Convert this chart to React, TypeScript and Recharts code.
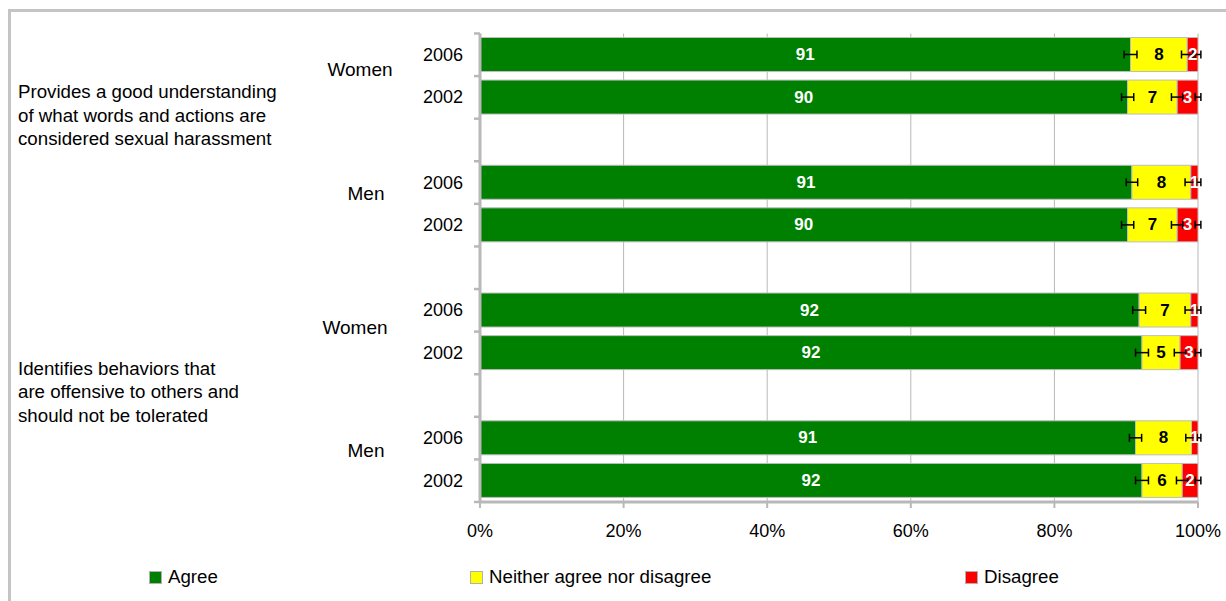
import React from 'react';
import { BarChart, Bar, XAxis, YAxis, CartesianGrid, ErrorBar, LabelList } from 'recharts';

// ---------- data ----------
const years = ['2006', '2002', '', '2006', '2002', '', '2006', '2002', '', '2006', '2002'];
const genders = ['Women', '', '', 'Men', '', '', 'Women', '', '', 'Men', ''];
const question1 = ['Provides a good understanding', 'of what words and actions are', 'considered sexual harassment'];
const question2 = ['Identifies behaviors that', 'are offensive to others and', 'should not be tolerated'];
const questionRows: (string[] | null)[] = [question1, null, null, null, null, null, question2, null, null, null, null];

const agree = [90.6, 90.2, null, 90.8, 90.2, null, 91.8, 92.2, null, 91.3, 92.2];
const neither = [7.9, 6.9, null, 8.2, 6.9, null, 7.2, 5.3, null, 7.8, 5.6];
const disagree = [1.5, 2.9, null, 1.0, 2.9, null, 1.0, 2.5, null, 0.9, 2.2];
const agreeErr = [0.9, 0.85, null, 0.8, 0.85, null, 0.9, 0.9, null, 0.85, 0.9];
const neitherErr = [0.8, 0.8, null, 0.8, 0.8, null, 0.8, 0.8, null, 0.8, 0.8];
const disagreeErr = [0.4, 0.4, null, 0.4, 0.4, null, 0.4, 0.4, null, 0.4, 0.4];

const xTicks = [0, 20, 40, 60, 80, 100];

const series = [
  { key: 'agree', name: 'Agree', color: '#008000', label: '#ffffff', err: 'agreeErr' },
  { key: 'neither', name: 'Neither agree nor disagree', color: '#ffff00', label: '#000000', err: 'neitherErr' },
  { key: 'disagree', name: 'Disagree', color: '#ff0000', label: '#ffffff', err: 'disagreeErr' },
];

const rows = years.map((year, i) => ({
  year,
  agree: agree[i],
  neither: neither[i],
  disagree: disagree[i],
  agreeErr: agreeErr[i],
  neitherErr: neitherErr[i],
  disagreeErr: disagreeErr[i],
}));

// ---------- layout ----------
const FONT = '"Liberation Sans", Arial, Helvetica, sans-serif';
const W = 1226;
const H = 601;
const GRAY = '#b8b8b8';
const GENDER_POS: Record<number, { x: number; dy: number }> = {
  0: { x: 360, dy: 15 },
  3: { x: 366, dy: 11 },
  6: { x: 355, dy: 17 },
  9: { x: 366, dy: 12 },
};
const QUESTION_DY: Record<number, number> = { 0: 37, 6: 58 };
const QUESTION_X = 18;
const LINE_H = 23.5;
const LEGEND_X = [149, 470, 965];

const YTick = (props: any) => {
  const { x, y, payload } = props;
  const i: number = props.index ?? payload.index;
  const half = payload && typeof payload.offset === 'number' && payload.offset > 0 ? payload.offset : 21.3;
  const tickX1 = x + 11;
  const tickX2 = x + 17;
  const g = GENDER_POS[i];
  const q = questionRows[i];
  return (
    <g>
      <line x1={tickX1} x2={tickX2} y1={y - half} y2={y - half} stroke={GRAY} strokeWidth={2.5} />
      {i === years.length - 1 && (
        <line x1={tickX1} x2={tickX2} y1={y + half} y2={y + half} stroke={GRAY} strokeWidth={2.5} />
      )}
      <text x={x} y={y} textAnchor="end" dominantBaseline="central" fontSize={18} fontFamily={FONT} fill="#000">
        {years[i]}
      </text>
      {g && genders[i] && (
        <text x={g.x} y={y + g.dy} textAnchor="middle" dominantBaseline="central" fontSize={19} fontFamily={FONT} fill="#000">
          {genders[i]}
        </text>
      )}
      {q &&
        q.map((line, k) => (
          <text
            key={k}
            x={QUESTION_X}
            y={y + QUESTION_DY[i] + k * LINE_H}
            textAnchor="start"
            dominantBaseline="central"
            fontSize={18.7}
            fontFamily={FONT}
            fill="#000"
          >
            {line}
          </text>
        ))}
    </g>
  );
};

const makeLabel = (color: string) => (p: any) => {
  const vb = p.viewBox ?? p;
  const { x, y, width, height } = vb;
  const value = p.value;
  if (value == null || x == null || width == null) return null;
  return (
    <text
      x={x + width / 2}
      y={y + height / 2}
      textAnchor="middle"
      dominantBaseline="central"
      fill={color}
      fontWeight="bold"
      fontSize={17}
      fontFamily={FONT}
    >
      {Math.round(Number(value))}
    </text>
  );
};

export default function App() {
  return (
    <div
      style={{
        position: 'absolute',
        left: 0,
        top: 0,
        width: W,
        height: H,
        overflow: 'hidden',
        background: '#fff',
        fontFamily: FONT,
      }}
    >
      <div
        style={{
          position: 'absolute',
          left: 8,
          top: 9,
          width: 1400,
          height: 800,
          border: '3px solid #c4c4c4',
          boxSizing: 'border-box',
        }}
      />
      <div style={{ position: 'absolute', left: 0, top: 0 }}>
        <BarChart
          width={W}
          height={H}
          data={rows}
          layout="vertical"
          barCategoryGap="10%"
          margin={{ top: 33.5, right: 28, bottom: 59, left: 0 }}
        >
          <CartesianGrid horizontal={false} vertical={true} stroke={GRAY} strokeWidth={1} />
          <XAxis
            type="number"
            domain={[0, 100]}
            allowDataOverflow
            ticks={xTicks}
            interval={0}
            tickFormatter={(v: number) => `${v}%`}
            height={40}
            axisLine={{ stroke: GRAY, strokeWidth: 3 }}
            tickLine={{ stroke: GRAY, strokeWidth: 2 }}
            tickSize={6}
            tickMargin={16}
            tick={{ fill: '#000', fontSize: 18, fontFamily: FONT }}
          />
          <YAxis
            type="category"
            dataKey="year"
            width={480}
            interval={0}
            axisLine={{ stroke: GRAY, strokeWidth: 3 }}
            tickLine={false}
            tickSize={6}
            tickMargin={11}
            tick={<YTick />}
          />
          {series.map((s) => (
            <Bar
              key={s.key}
              dataKey={s.key}
              name={s.name}
              stackId="s"
              fill={s.color}
              stroke="#bdbdbd"
              strokeWidth={1}
              barSize={34}
              isAnimationActive={false}
            >
              <ErrorBar dataKey={s.err} direction="x" width={4} stroke="#000" strokeWidth={1.5} />
              <LabelList dataKey={s.key} content={makeLabel(s.label)} />
            </Bar>
          ))}
        </BarChart>
      </div>
      {series.map((s, i) => (
        <div
          key={s.key}
          style={{
            position: 'absolute',
            left: LEGEND_X[i],
            top: 566,
            height: 22,
            display: 'flex',
            alignItems: 'center',
            fontSize: 18.7,
            color: '#000',
            whiteSpace: 'nowrap',
          }}
        >
          <span
            style={{
              display: 'inline-block',
              width: 11,
              height: 11,
              background: s.color,
              border: '1px solid #b0b0b0',
              marginRight: 6,
            }}
          />
          <span>{s.name}</span>
        </div>
      ))}
    </div>
  );
}
